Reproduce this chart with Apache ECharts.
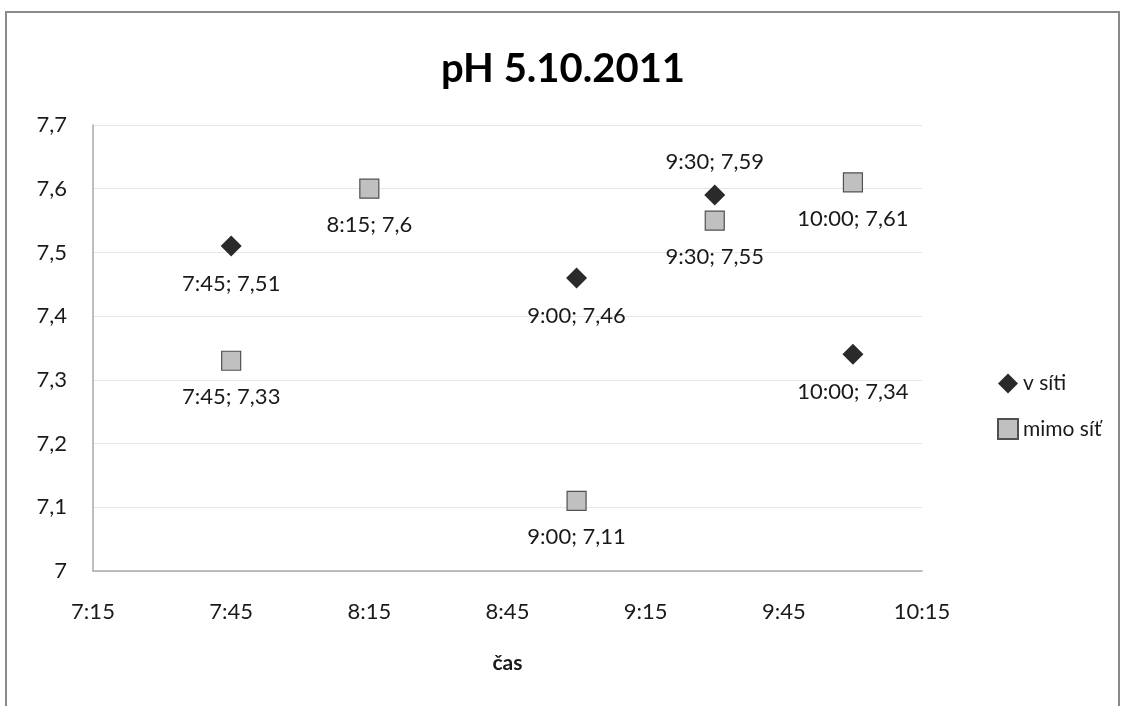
<!DOCTYPE html>
<html>
<head>
<meta charset="UTF-8">
<title>pH 5.10.2011</title>
<style>
html,body{margin:0;padding:0;background:#fff;}
#main{width:1126px;height:706px;}
</style>
</head>
<body>
<div id="main"></div>
<script src="https://cdn.jsdelivr.net/npm/echarts@6/dist/echarts.min.js"></script>
<script>
// data
var vSitiTimes = ['7:45', '9:00', '9:30', '10:00'];
var vSitiValues = [7.51, 7.46, 7.59, 7.34];
var mimoTimes = ['7:45', '8:15', '9:00', '9:30', '10:00'];
var mimoValues = [7.33, 7.6, 7.11, 7.55, 7.61];
var xTicks = ['7:15', '7:45', '8:15', '8:45', '9:15', '9:45', '10:15'];
var yTicks = [7, 7.1, 7.2, 7.3, 7.4, 7.5, 7.6, 7.7];

var START = 7 * 60 + 15; // minutes of 7:15, axis starts here

function toMin(t) {
	var p = t.split(':');
	return parseInt(p[0], 10) * 60 + parseInt(p[1], 10);
}
function fmtTime(m) {
	var h = Math.floor(m / 60), mm = m % 60;
	return h + ':' + (mm < 10 ? '0' + mm : mm);
}
function comma(v) {
	return String(v).replace('.', ',');
}
function build(times, values) {
	var out = [];
	for (var i = 0; i < times.length; i++) {
		out.push([toMin(times[i]) - START, values[i], times[i]]);
	}
	return out;
}

var font = 'Lato, "Open Sans", sans-serif';
var txt = '#1a1a1a';
var vSitiData = build(vSitiTimes, vSitiValues);
// 9:30 label sits above the point
vSitiData[2] = {value: vSitiData[2], label: {position: 'top', distance: 12}};

var myChart = echarts.init(document.getElementById('main'));
myChart.setOption({
	animation: false,
	backgroundColor: '#fff',
	graphic: [{
		type: 'rect',
		shape: {x: 6, y: 12, width: 1113, height: 710},
		style: {fill: 'none', stroke: '#8a8a8a', lineWidth: 2},
		silent: true
	}],
	title: {
		text: 'pH 5.10.2011',
		left: 'center',
		top: 44,
		textStyle: {fontFamily: font, fontSize: 40, fontWeight: 'bold', color: '#000'}
	},
	legend: {
		orient: 'vertical',
		left: 992,
		top: 368,
		itemGap: 24,
		itemWidth: 20,
		itemHeight: 20,
		textStyle: {fontFamily: font, fontSize: 21, color: txt},
		data: ['v síti', 'mimo síť']
	},
	grid: {left: 93, right: 204, top: 125, bottom: 135},
	xAxis: {
		type: 'value',
		min: 0,
		max: 180,
		interval: 30,
		name: 'čas',
		nameLocation: 'middle',
		nameGap: 82,
		nameTextStyle: {fontFamily: font, fontSize: 21, fontWeight: 'bold', color: txt},
		axisLine: {lineStyle: {color: '#aaa', width: 1.5}},
		axisTick: {show: false},
		splitLine: {show: false},
		axisLabel: {
			fontFamily: font, fontSize: 22, color: txt, margin: 30,
			formatter: function (v) { return fmtTime(v + START); }
		}
	},
	yAxis: {
		type: 'value',
		min: 7,
		max: 7.7,
		interval: 0.1,
		axisLine: {show: true, lineStyle: {color: '#aaa', width: 1.5}},
		axisTick: {show: false},
		splitLine: {lineStyle: {color: '#e6e6e6', width: 1}},
		axisLabel: {
			fontFamily: font, fontSize: 22, color: txt, margin: 26,
			formatter: function (v) {
				var r = Math.round(v * 10) / 10;
				return comma(r);
			}
		}
	},
	series: [{
		name: 'v síti',
		type: 'scatter',
		symbol: 'diamond',
		symbolSize: 21,
		itemStyle: {color: '#2a2a2a', opacity: 1},
		label: {
			show: true,
			position: 'bottom',
			distance: 16,
			fontFamily: font, fontSize: 22, color: txt,
			formatter: function (p) { return p.value[2] + '; ' + comma(p.value[1]); }
		},
		data: vSitiData
	}, {
		name: 'mimo síť',
		type: 'scatter',
		symbol: 'rect',
		symbolSize: 19,
		itemStyle: {color: '#c0c0c0', borderColor: '#505050', borderWidth: 1.2, opacity: 1},
		label: {
			show: true,
			position: 'bottom',
			distance: 15,
			fontFamily: font, fontSize: 22, color: txt,
			formatter: function (p) { return p.value[2] + '; ' + comma(p.value[1]); }
		},
		data: build(mimoTimes, mimoValues)
	}]
});
</script>
</body>
</html>
